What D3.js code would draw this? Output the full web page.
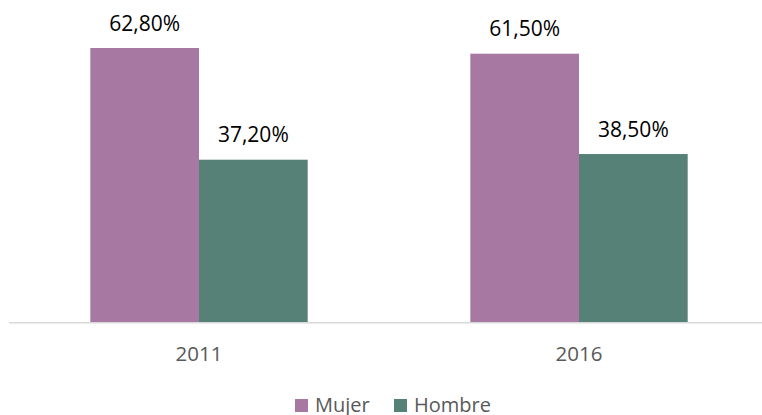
<!DOCTYPE html>
<html>
<head>
<meta charset="utf-8">
<script src="https://cdn.jsdelivr.net/npm/d3@7"></script>
<style>
  html, body { margin: 0; padding: 0; background: #fff; }
  svg { display: block; font-family: "Open Sans", "DejaVu Sans", sans-serif; }
</style>
</head>
<body>
<svg id="chart" width="762" height="415"></svg>
<script>
// Share of people by sex, per census year (percent)
const years = ["2011", "2016"];
const series = ["Mujer", "Hombre"];
const mujer = [62.8, 61.5];
const hombre = [37.2, 38.5];
const colors = ["#a779a2", "#568176"];

const seriesValues = [mujer, hombre];
const rows = years.map((y, i) => ({
  year: y,
  values: series.map((s, j) => ({ key: s, value: seriesValues[j][i], color: colors[j] }))
}));

const svg = d3.select("#chart");
const baseY = 322;

const x0 = d3.scaleBand().domain(years).range([9, 769])
  .paddingInner(0.428).paddingOuter(0.214);
const x1 = d3.scaleBand().domain(series).range([0, x0.bandwidth()]).padding(0);
const y = d3.scaleLinear().domain([0, 70]).range([baseY, 16.6]);

const fmt = v => v.toFixed(2).replace(".", ",") + "%";

const groups = svg.append("g").selectAll("g")
  .data(rows).join("g")
  .attr("transform", d => `translate(${x0(d.year)},0)`);

groups.selectAll("rect")
  .data(d => d.values).join("rect")
  .attr("x", d => x1(d.key))
  .attr("y", d => y(d.value))
  .attr("width", x1.bandwidth())
  .attr("height", d => baseY - y(d.value))
  .attr("fill", d => d.color);

groups.selectAll("text")
  .data(d => d.values).join("text")
  .attr("x", d => x1(d.key) + x1.bandwidth() / 2)
  .attr("y", d => y(d.value) - 17.3)
  .attr("text-anchor", "middle")
  .attr("font-size", 21)
  .attr("fill", "#000")
  .text(d => fmt(d.value));

// Category axis: baseline and year labels
const axis = d3.axisBottom(x0).tickSize(0).tickPadding(0);
const axisG = svg.append("g").attr("transform", `translate(0,${baseY})`).call(axis);
axisG.select(".domain").remove();
axisG.selectAll("text")
  .attr("y", 38.7)
  .attr("dy", null)
  .attr("font-size", 20.5)
  .attr("font-family", "\"Open Sans\", \"DejaVu Sans\", sans-serif")
  .attr("fill", "#595959");

svg.append("line")
  .attr("x1", 9).attr("x2", 762)
  .attr("y1", baseY + 0.75).attr("y2", baseY + 0.75)
  .attr("stroke", "#d9d9d9").attr("stroke-width", 1.5);

// Legend
const legendX = [295, 394];
const legend = svg.append("g").selectAll("g")
  .data(series).join("g")
  .attr("transform", (d, i) => `translate(${legendX[i]},399)`);
legend.append("rect")
  .attr("width", 13).attr("height", 13)
  .attr("fill", (d, i) => colors[i]);
legend.append("text")
  .attr("x", 20).attr("y", 12.5)
  .attr("font-size", 20)
  .attr("fill", "#595959")
  .text(d => d);
</script>
</body>
</html>
